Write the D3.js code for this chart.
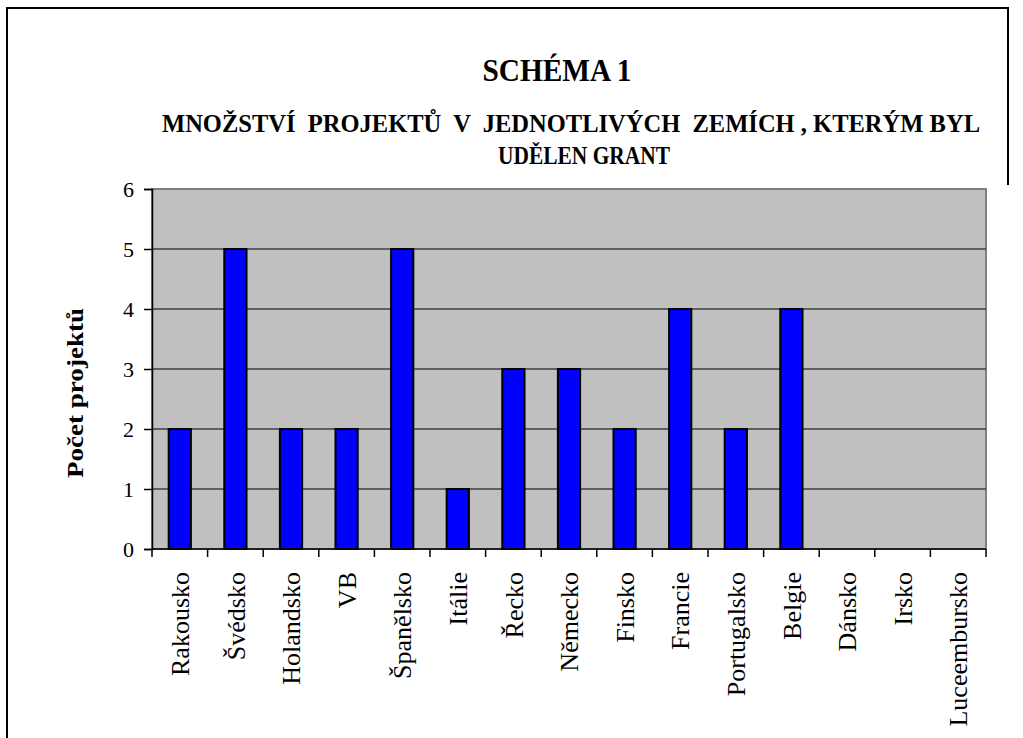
<!DOCTYPE html>
<html>
<head>
<meta charset="utf-8">
<script src="https://cdn.jsdelivr.net/npm/d3@7"></script>
<style>
  body { margin: 0; background: #fff; }
  svg text { font-family: "Liberation Serif", serif; white-space: pre; }
</style>
</head>
<body>
<div id="my_dataviz"></div>
<script>
// data
const countries = ["Rakousko", "Švédsko", "Holandsko", "VB", "Španělsko", "Itálie", "Řecko",
  "Německo", "Finsko", "Francie", "Portugalsko", "Belgie", "Dánsko", "Irsko", "Luceembursko"];
const projects = [2, 5, 2, 2, 5, 1, 3, 3, 2, 4, 2, 4, 0, 0, 0];
const yTicks = [0, 1, 2, 3, 4, 5, 6];

const titleText = "SCHÉMA 1";
const subtitleLines = ["MNOŽSTVÍ  PROJEKTŮ  V  JEDNOTLIVÝCH  ZEMÍCH , KTERÝM BYL", "UDĚLEN GRANT"];
const yTitle = "Počet projektů";

const serif = "'Liberation Serif', serif";

// set the dimensions of the plot area
const W = 1023, H = 738;
const plot = { left: 152, right: 986, top: 189, bottom: 549 };

const svg = d3.select("#my_dataviz")
  .append("svg")
  .attr("width", W)
  .attr("height", H);

// outer frame
svg.append("path")
  .attr("d", `M7,${H} V8 H1008 V185`)
  .attr("fill", "none")
  .attr("stroke", "#000")
  .attr("stroke-width", 2);

// scales
const x = d3.scaleBand()
  .domain(countries)
  .range([plot.left, plot.right])
  .padding(0);

const y = d3.scaleLinear()
  .domain([0, 6])
  .range([plot.bottom, plot.top]);

// plot background
svg.append("rect")
  .attr("x", plot.left)
  .attr("y", plot.top)
  .attr("width", plot.right - plot.left)
  .attr("height", plot.bottom - plot.top)
  .attr("fill", "#c0c0c0")
  .attr("stroke", "#808080")
  .attr("stroke-width", 2);

// gridlines
svg.append("g")
  .selectAll("line")
  .data(yTicks.filter(d => d > 0 && d < 6))
  .join("line")
  .attr("x1", plot.left)
  .attr("x2", plot.right)
  .attr("y1", d => y(d))
  .attr("y2", d => y(d))
  .attr("stroke", "#000")
  .attr("stroke-width", 1);

// Y axis
const yAxis = svg.append("g")
  .attr("transform", `translate(${plot.left}, 0)`)
  .call(d3.axisLeft(y).tickValues(yTicks).tickSize(8).tickPadding(10).tickFormat(d3.format("d")));
yAxis.attr("font-family", null).attr("font-size", null);
yAxis.select(".domain").attr("stroke", "#000").attr("stroke-width", 1.5);
yAxis.selectAll(".tick line").attr("stroke", "#000").attr("stroke-width", 1.5);
yAxis.selectAll(".tick text")
  .attr("fill", "#000")
  .style("font-family", serif)
  .style("font-size", "22px");

// X axis: ticks on the category boundaries
const xAxis = svg.append("g")
  .attr("transform", `translate(0, ${plot.bottom})`);
xAxis.append("line")
  .attr("x1", plot.left)
  .attr("x2", plot.right)
  .attr("stroke", "#000")
  .attr("stroke-width", 1.5);
xAxis.selectAll(".xtick")
  .data(countries.concat(["__end"]))
  .join("line")
  .attr("class", "xtick")
  .attr("x1", d => d === "__end" ? plot.right : x(d))
  .attr("x2", d => d === "__end" ? plot.right : x(d))
  .attr("y1", 0)
  .attr("y2", 8)
  .attr("stroke", "#000")
  .attr("stroke-width", 1.5);

// category labels
svg.append("g")
  .selectAll("text")
  .data(countries)
  .join("text")
  .attr("transform", d => `translate(${x(d) + x.bandwidth() / 2}, 572) rotate(-90)`)
  .attr("text-anchor", "end")
  .attr("dy", "0.35em")
  .style("font-family", serif)
  .style("font-size", "26px")
  .text(d => d);

// bars
const barW = x.bandwidth() / 2.5;
svg.append("g")
  .selectAll("rect")
  .data(countries.map((c, i) => ({ c: c, v: projects[i] })).filter(d => d.v > 0))
  .join("rect")
  .attr("x", d => x(d.c) + (x.bandwidth() - barW) / 2)
  .attr("y", d => y(d.v))
  .attr("width", barW)
  .attr("height", d => y(0) - y(d.v))
  .attr("fill", "#0000ff")
  .attr("stroke", "#000")
  .attr("stroke-width", 2);

// titles
svg.append("text")
  .attr("x", 557)
  .attr("y", 81)
  .attr("text-anchor", "middle")
  .attr("textLength", 149)
  .attr("lengthAdjust", "spacingAndGlyphs")
  .style("font-family", serif)
  .style("font-size", "32px")
  .style("font-weight", "bold")
  .text(titleText);

svg.append("text")
  .attr("x", 571)
  .attr("y", 132)
  .attr("text-anchor", "middle")
  .attr("textLength", 818)
  .attr("lengthAdjust", "spacingAndGlyphs")
  .style("font-family", serif)
  .style("font-size", "25px")
  .style("font-weight", "bold")
  .text(subtitleLines[0]);

svg.append("text")
  .attr("x", 584)
  .attr("y", 164)
  .attr("text-anchor", "middle")
  .attr("textLength", 172)
  .attr("lengthAdjust", "spacingAndGlyphs")
  .style("font-family", serif)
  .style("font-size", "25px")
  .style("font-weight", "bold")
  .text(subtitleLines[1]);

// Y axis label
svg.append("text")
  .attr("transform", "translate(83, 393) rotate(-90)")
  .attr("text-anchor", "middle")
  .attr("textLength", 170)
  .attr("lengthAdjust", "spacingAndGlyphs")
  .style("font-family", serif)
  .style("font-size", "23px")
  .style("font-weight", "bold")
  .text(yTitle);
</script>
</body>
</html>
